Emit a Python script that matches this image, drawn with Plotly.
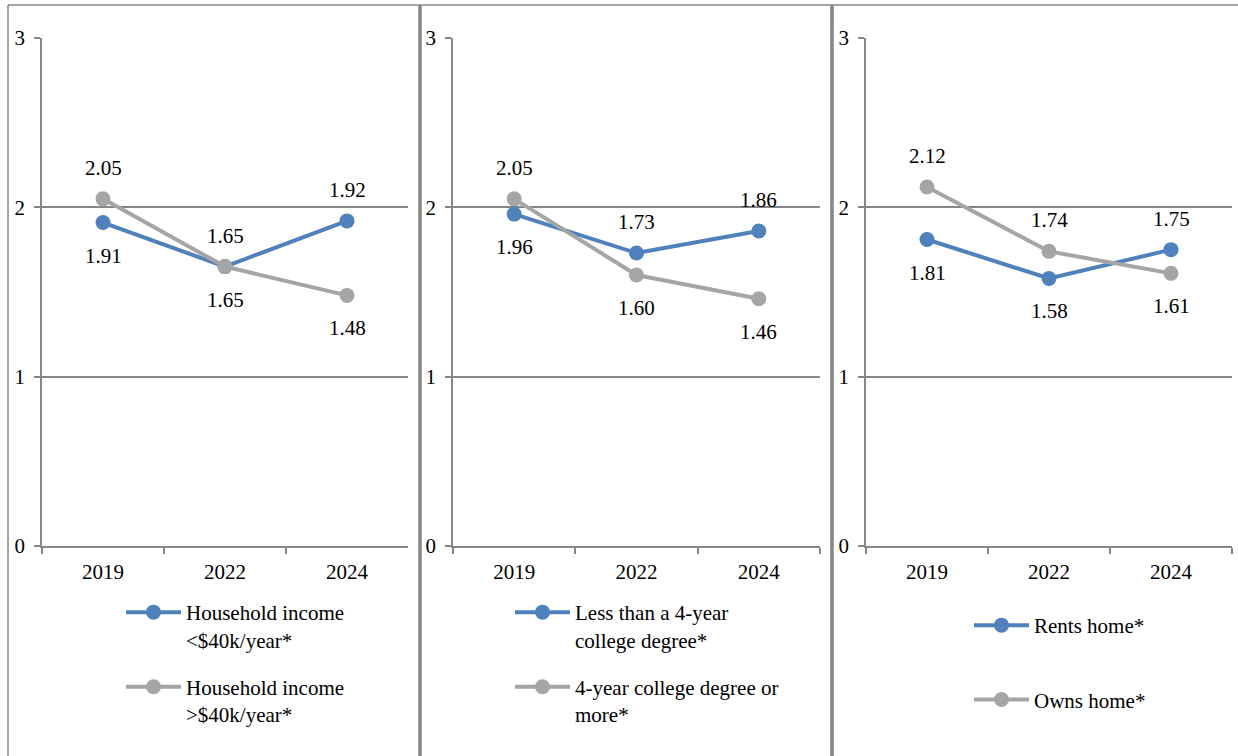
import plotly.graph_objects as go

years = ["2019", "2022", "2024"]

# Panel 1: household income
inc_low = [1.91, 1.65, 1.92]
inc_high = [2.05, 1.65, 1.48]
# Panel 2: education
edu_low = [1.96, 1.73, 1.86]
edu_high = [2.05, 1.60, 1.46]
# Panel 3: housing
rents = [1.81, 1.58, 1.75]
owns = [2.12, 1.74, 1.61]

names1 = ["Household income<br>&lt;$40k/year*", "Household income<br>&gt;$40k/year*"]
names2 = ["Less than a 4-year<br>college degree*", "4-year college degree or<br>more*"]
names3 = ["Rents home*", "Owns home*"]

# label positions: +1 above, -1 below
pos1 = ([-1, 1, 1], [1, -1, -1])
pos2 = ([-1, 1, 1], [1, -1, -1])
pos3 = ([-1, -1, 1], [1, 1, -1])

BLUE = "#4f81bd"
GRAY = "#a5a5a5"
AXC = "#868686"
FONT = "Liberation Serif"
FS = 21
W, H = 1238, 756

fig = go.Figure()

panels = [
    (inc_low, inc_high, names1, pos1, 42, 408),
    (edu_low, edu_high, names2, pos2, 453, 820),
    (rents, owns, names3, pos3, 866, 1232),
]

legend_cfg = [
    dict(x=121, y=592, gap=17),
    dict(x=510, y=592, gap=17),
    dict(x=969, y=605, gap=44),
]

for i, (s1, s2, names, pos, x0, x1) in enumerate(panels):
    n = i + 1
    xa = "x" if n == 1 else f"x{n}"
    ya = "y" if n == 1 else f"y{n}"
    lg = "legend" if n == 1 else f"legend{n}"
    for j, (vals, col) in enumerate([(s1, BLUE), (s2, GRAY)]):
        fig.add_trace(go.Scatter(
            x=years, y=vals, mode="lines+markers", name=names[j],
            line=dict(color=col, width=4), marker=dict(color=col, size=15),
            xaxis=xa, yaxis=ya, legend=lg, legendgroup=f"g{n}{j}",
            hoverinfo="skip", cliponaxis=False,
        ))
        for k, v in enumerate(vals):
            fig.add_annotation(
                x=k, y=v, xref=xa, yref=ya, text=f"{v:.2f}",
                showarrow=False, yshift=31 if pos[j][k] > 0 else -33,
                font=dict(family=FONT, size=FS, color="black"),
            )
    axkey = "xaxis" if n == 1 else f"xaxis{n}"
    aykey = "yaxis" if n == 1 else f"yaxis{n}"
    fig.update_layout({
        axkey: dict(
            domain=[x0 / W, x1 / W], anchor=ya, type="category",
            categoryarray=years, categoryorder="array",
            range=[-0.5, 2.5], showline=True, linecolor=AXC, linewidth=1.5,
            ticks="outside", tickson="boundaries", ticklen=6, tickcolor=AXC,
            tickwidth=1.5, showgrid=False, zeroline=False, automargin=False,
            tickfont=dict(family=FONT, size=FS, color="black"),
            ticklabelstandoff=6, fixedrange=True,
        ),
        aykey: dict(
            domain=[1 - 546 / H, 1 - 38 / H], anchor=xa, range=[0, 3],
            tickvals=[0, 1, 2, 3], showline=True, linecolor=AXC, linewidth=1.5,
            ticks="outside", ticklen=6, tickcolor=AXC, tickwidth=1.5,
            showgrid=True, gridcolor=AXC, gridwidth=1.5, zeroline=False,
            automargin=False,
            tickfont=dict(family=FONT, size=FS, color="black"),
            ticklabelstandoff=5, fixedrange=True,
        ),
        lg: dict(
            x=legend_cfg[i]["x"] / W, y=1 - legend_cfg[i]["y"] / H,
            xanchor="left", yanchor="top", xref="paper", yref="paper",
            bgcolor="rgba(0,0,0,0)", borderwidth=0, itemwidth=55,
            tracegroupgap=legend_cfg[i]["gap"], valign="top",
            font=dict(family=FONT, size=FS, color="black"),
        ),
    })

# frame and panel separators
shapes = [
    dict(type="line", xref="paper", yref="paper", x0=8 / W, x1=1, y0=1 - 5 / H, y1=1 - 5 / H,
         line=dict(color=AXC, width=1.5)),
    dict(type="line", xref="paper", yref="paper", x0=8 / W, x1=8 / W, y0=0, y1=1 - 5 / H,
         line=dict(color=AXC, width=1.5)),
    dict(type="line", xref="paper", yref="paper", x0=420 / W, x1=420 / W, y0=0, y1=1 - 5 / H,
         line=dict(color=AXC, width=3.5)),
    dict(type="line", xref="paper", yref="paper", x0=832 / W, x1=832 / W, y0=0, y1=1 - 5 / H,
         line=dict(color=AXC, width=3.5)),
]

fig.update_layout(
    template="none",
    width=W, height=H, margin=dict(l=0, r=0, t=0, b=0, autoexpand=False),
    paper_bgcolor="white", plot_bgcolor="white",
    font=dict(family=FONT, size=FS, color="black"),
    shapes=shapes, showlegend=True,
)

fig.write_html(
    "out.html",
    config={"displayModeBar": False},
    post_script="document.body.style.margin='0px';document.body.style.overflow='hidden';",
)
